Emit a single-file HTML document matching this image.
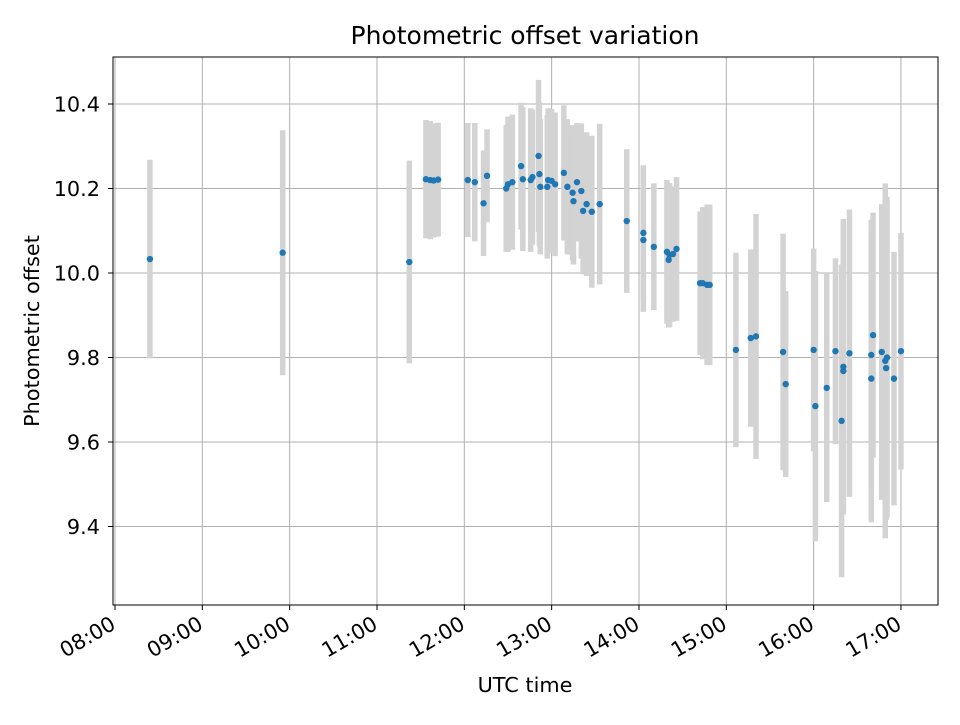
<!DOCTYPE html>
<html><head><meta charset="utf-8"><style>
body{margin:0;background:#fff;}
svg text{font-family:"DejaVu Sans","Liberation Sans",sans-serif;fill:#000;}
</style></head><body>
<svg id="chart" width="960" height="720" xmlns="http://www.w3.org/2000/svg">
<rect width="960" height="720" fill="#fff"/>
<g id="grid"></g>
<g id="errs"></g>
<g id="pts"></g>
<rect x="113" y="57" width="825" height="548" fill="none" stroke="#000" stroke-width="1"/>
<g id="axes"></g>
<text x="525" y="44" font-size="25px" text-anchor="middle">Photometric offset variation</text>
<text x="525" y="692" font-size="20.8px" text-anchor="middle">UTC time</text>
<text transform="translate(39,331) rotate(-90)" font-size="20.8px" text-anchor="middle">Photometric offset</text>
</svg>
<script>
const times=[8.40,9.92,11.37,11.56,11.61,11.65,11.70,12.04,12.12,12.22,12.26,12.48,12.50,12.55,12.65,12.67,12.76,12.78,12.85,12.86,12.87,12.95,12.96,13.00,13.04,13.14,13.18,13.24,13.25,13.29,13.34,13.36,13.40,13.46,13.55,13.86,14.05,14.05,14.17,14.32,14.35,14.34,14.39,14.43,14.70,14.73,14.78,14.81,15.11,15.28,15.34,15.65,15.68,16.00,16.02,16.15,16.25,16.32,16.34,16.34,16.41,16.66,16.66,16.68,16.78,16.82,16.83,16.84,16.92,17.00];
const offsets=[10.033,10.048,10.026,10.222,10.220,10.219,10.221,10.220,10.215,10.165,10.230,10.200,10.210,10.215,10.253,10.222,10.220,10.227,10.277,10.234,10.204,10.204,10.220,10.218,10.210,10.237,10.204,10.190,10.170,10.215,10.194,10.147,10.163,10.145,10.163,10.123,10.095,10.078,10.062,10.050,10.043,10.031,10.045,10.057,9.976,9.976,9.972,9.972,9.818,9.846,9.850,9.813,9.737,9.818,9.685,9.728,9.815,9.650,9.778,9.768,9.810,9.806,9.750,9.853,9.813,9.792,9.775,9.800,9.750,9.815];
const errors=[0.235,0.29,0.24,0.14,0.14,0.135,0.135,0.135,0.14,0.125,0.11,0.15,0.16,0.16,0.15,0.17,0.17,0.16,0.18,0.17,0.16,0.17,0.17,0.17,0.17,0.16,0.16,0.16,0.15,0.14,0.16,0.15,0.17,0.18,0.19,0.17,0.16,0.17,0.15,0.17,0.17,0.16,0.16,0.17,0.17,0.18,0.19,0.19,0.23,0.21,0.29,0.28,0.22,0.24,0.32,0.27,0.22,0.37,0.35,0.33,0.34,0.32,0.34,0.29,0.35,0.42,0.36,0.38,0.30,0.28];
const xTicks=[8,9,10,11,12,13,14,15,16,17];
const xTickLabels=["08:00","09:00","10:00","11:00","12:00","13:00","14:00","15:00","16:00","17:00"];
const yTicks=[9.4,9.6,9.8,10.0,10.2,10.4];
const yTickLabels=["9.4","9.6","9.8","10.0","10.2","10.4"];

const X=h=>115+(h-8)*87.33;
const Y=v=>273-(v-10)*422.5;
const NS="http://www.w3.org/2000/svg";
function mk(tag,parent,attrs){const e=document.createElementNS(NS,tag);for(const k in attrs)e.setAttribute(k,attrs[k]);parent.appendChild(e);return e;}
const grid=document.getElementById('grid'),axes=document.getElementById('axes');
xTicks.forEach((t,i)=>{
  const x=X(t);
  const g=mk('line',grid,{x1:x,x2:x,y1:57,y2:605,stroke:'#b0b0b0','stroke-width':1});
  
  
  const tk=mk('line',axes,{x1:x,x2:x,y1:605,y2:610,stroke:'#000','stroke-width':1});
  
  
  const ax=x+2, ay=628;
  const tx=mk('text',axes,{x:ax,y:ay,'font-size':'20.8px','text-anchor':'end',transform:`rotate(-30 ${ax} ${ay})`});
  tx.textContent=xTickLabels[i];
  
  
});
yTicks.forEach((t,i)=>{
  const y=Y(t);
  const g=mk('line',grid,{x1:113,x2:938,y1:y,y2:y,stroke:'#b0b0b0','stroke-width':1});
  
  
  const tk=mk('line',axes,{x1:108,x2:113,y1:y,y2:y,stroke:'#000','stroke-width':1});
  
  
  const tx=mk('text',axes,{x:100,y:y+7.5,'font-size':'20.8px','text-anchor':'end'});
  tx.textContent=yTickLabels[i];
  
  
});
const errs=document.getElementById('errs'),pts=document.getElementById('pts');
times.forEach((t,i)=>{
  const x=X(t);
  const e=mk('line',errs,{x1:x,x2:x,y1:Y(offsets[i]+errors[i]),y2:Y(offsets[i]-errors[i]),stroke:'#d3d3d3','stroke-width':5.5});
  
  
});
times.forEach((t,i)=>{
  const c=mk('circle',pts,{cx:X(t),cy:Y(offsets[i]),r:3.2,fill:'#1f77b4'});
  
  
});
</script>
</body></html>
